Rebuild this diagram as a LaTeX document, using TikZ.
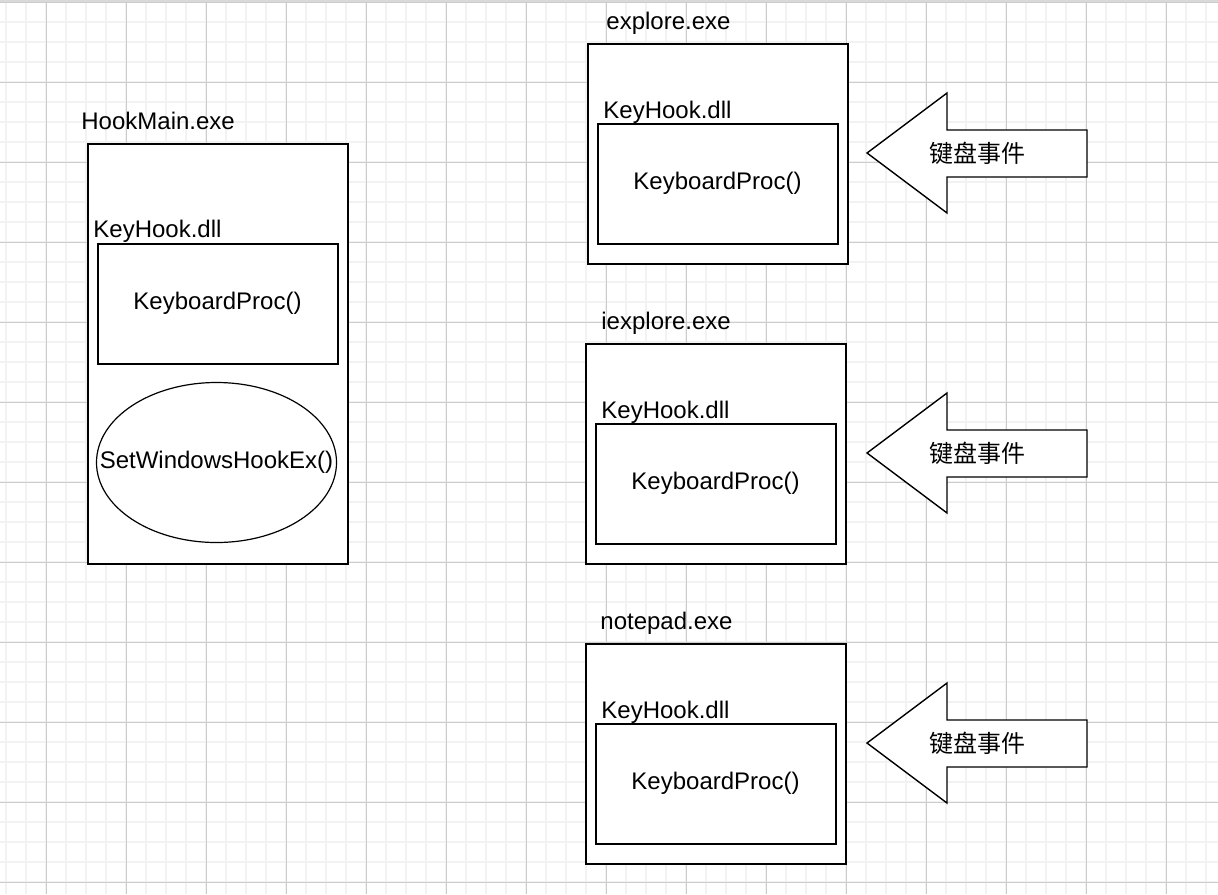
\documentclass[tikz,border=0pt]{standalone}
\usepackage{fontspec}
\setmainfont{Liberation Sans}
\newfontfamily\cjkfont{Noto Sans CJK SC}
\usetikzlibrary{shapes.geometric}

\begin{document}
\begin{tikzpicture}[
  x=0.5pt, y=-0.5pt,
  font=\fontsize{12}{14}\selectfont,
  minorline/.style={line width=1pt, draw=black!5},
  majorline/.style={line width=0.5pt, draw=black!20},
  procbox/.style={draw, fill=white, line width=1pt, minimum width=130pt, minimum height=110pt, inner sep=0pt, anchor=north west},
  dllbox/.style={draw, fill=white, line width=1pt, minimum width=120pt, minimum height=60pt, inner sep=0pt, anchor=north west},
  caption/.style={anchor=base west, inner sep=0pt},
  hookcall/.style={draw, fill=white, ellipse, line width=0.6pt, minimum width=120pt, minimum height=80pt, inner sep=0pt},
  evtarrow/.style={draw, fill=white, line width=0.7pt, line join=miter},
  evtlabel/.style={font=\cjkfont\fontsize{12}{14}\selectfont, inner sep=0pt}
]
\useasboundingbox (0,0) rectangle (1218,894);
% background grid
\foreach \i in {0,...,60} \draw[minorline] (6+20*\i,0) -- (6+20*\i,894);
\foreach \j in {0,...,44} \draw[minorline] (0,2+20*\j) -- (1218,2+20*\j);
\foreach \i in {0,...,14} \draw[majorline] (46+80*\i,0) -- (46+80*\i,894);
\foreach \j in {0,...,11} \draw[majorline] (0,2+80*\j) -- (1218,2+80*\j);
\draw[line width=1pt, black!15] (0,1) -- (1218,1);

% HookMain.exe
\node[procbox, minimum height=210pt] (hookmain) at (86.5,142.5) {};
\node[caption] (hookmainlbl) at (81,129) {HookMain.exe};
\node[dllbox] (maindll) at (96.5,242.5) {};
\node[caption] (maindlllbl) at (93,237) {KeyHook.dll};
\node (mainproc) at (maindll.center) {KeyboardProc()};
\node[hookcall] (sethook) at (216.5,462.5) {};
\node[inner sep=0pt] (sethooklbl) at (sethook.center) {SetWindowsHookEx()};

% explore.exe
\node[procbox] (explore) at (586.5,42.5) {};
\node[caption] (explorelbl) at (606,29) {explore.exe};
\node[dllbox] (exploredll) at (596.5,122.5) {};
\node[caption] (exploredlllbl) at (603,118) {KeyHook.dll};
\node (exploreproc) at (exploredll.center) {KeyboardProc()};

% iexplore.exe
\node[procbox] (iexplore) at (584.5,342.5) {};
\node[caption] (iexplorelbl) at (601,329) {iexplore.exe};
\node[dllbox] (iexploredll) at (594.5,422.5) {};
\node[caption] (iexploredlllbl) at (601,418) {KeyHook.dll};
\node (iexploreproc) at (iexploredll.center) {KeyboardProc()};

% notepad.exe
\node[procbox] (notepad) at (584.5,642.5) {};
\node[caption] (notepadlbl) at (600,629) {notepad.exe};
\node[dllbox] (notepaddll) at (594.5,722.5) {};
\node[caption] (notepaddlllbl) at (601,718) {KeyHook.dll};
\node (notepadproc) at (notepaddll.center) {KeyboardProc()};

% keyboard events
\coordinate (tipA) at (867,153);
\coordinate (tipB) at (867,453);
\coordinate (tipC) at (867,743);
\draw[evtarrow] (tipA) -- ++(80,-60) -- ++(0,37) -- ++(140,0) -- ++(0,47) -- ++(-140,0) -- ++(0,36) -- cycle;
\draw[evtarrow] (tipB) -- ++(80,-60) -- ++(0,37) -- ++(140,0) -- ++(0,47) -- ++(-140,0) -- ++(0,36) -- cycle;
\draw[evtarrow] (tipC) -- ++(80,-60) -- ++(0,37) -- ++(140,0) -- ++(0,47) -- ++(-140,0) -- ++(0,36) -- cycle;
\node[evtlabel] (evtA) at (977,153) {键盘事件};
\node[evtlabel] (evtB) at (977,453) {键盘事件};
\node[evtlabel] (evtC) at (977,743) {键盘事件};
\end{tikzpicture}
\end{document}
